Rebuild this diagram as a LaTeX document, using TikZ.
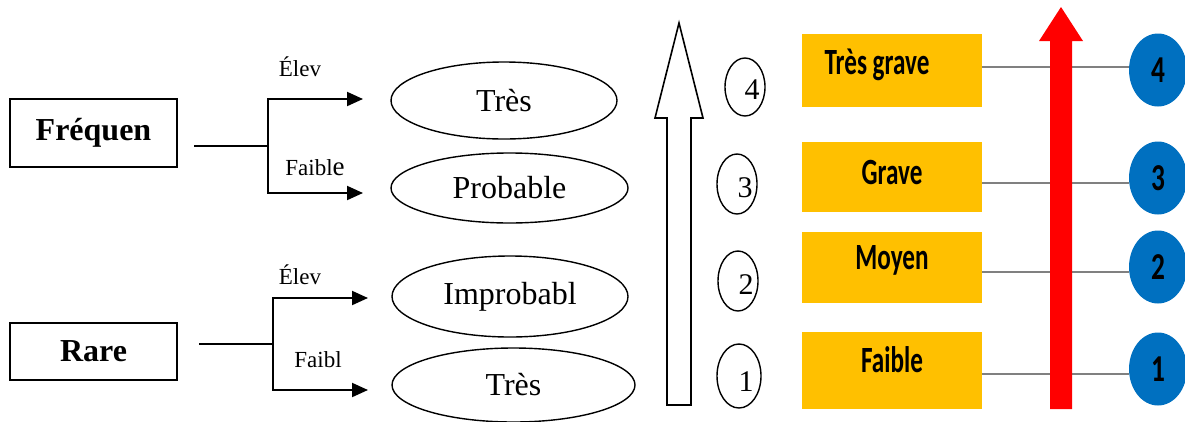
\documentclass[tikz,border=0pt]{standalone}
\usepackage{fontspec}
\setmainfont{Liberation Serif}
\newfontfamily\carl{Carlito}
\usetikzlibrary{arrows.meta,shapes.geometric}
\definecolor{ybx}{HTML}{FFC000}
\definecolor{bl}{HTML}{0070C0}
\definecolor{gl}{HTML}{808080}
\begin{document}
\begin{tikzpicture}[x=1pt,y=-1pt,
  lbox/.style={draw, line width=1.5pt, minimum width=167pt, inner sep=0pt, font=\fontsize{32}{36}\selectfont\bfseries},
  ell/.style={draw, ellipse, line width=1.4pt, inner sep=0pt, font=\fontsize{32}{36}\selectfont},
  num/.style={draw, ellipse, line width=1.4pt, inner sep=0pt, minimum width=40pt, minimum height=59pt},
  numt/.style={font=\fontsize{30}{33}\selectfont},
  ybox/.style={fill=ybx, minimum width=180pt, inner sep=0pt},
  ytxt/.style={font=\carl\bfseries\fontsize{37}{40}\selectfont, inner sep=0pt},
  bcirc/.style={fill=bl, ellipse, minimum width=58pt, minimum height=73pt, inner sep=0pt, font=\carl\bfseries\fontsize{38}{40}\selectfont},
  arr/.style={line width=2pt, -{Triangle[length=16pt,width=14pt]}},
  conn/.style={line width=1.6pt},
  gline/.style={draw=gl, line width=1.1pt},
  lab/.style={font=\fontsize{23}{26}\selectfont, inner sep=0pt}]
\useasboundingbox (0,0) rectangle (1185,421);
\clip (0,0) rectangle (1185,421);

% left boxes
\node[lbox, minimum height=68pt] (fq) at (93.5,133) {Fréquen};
\node[lbox, minimum height=57pt] (ra) at (93.5,351.5) {Rare};

% ellipses
\node[ell, minimum width=226pt, minimum height=77pt] (e1) at (504,100.5) {Très};
\node[ell, minimum width=237pt, minimum height=70pt] (e2) at (509.5,188) {Probable};
\node[ell, minimum width=236pt, minimum height=81pt] (e3) at (510,296.5) {Improbabl};
\node[ell, minimum width=243pt, minimum height=74pt] (e4) at (513.5,385) {Très};

% Fréquen connectors
\coordinate (fa) at (194,146);
\coordinate (fj) at (268,146);
\coordinate (fut) at (363,99);
\coordinate (fdt) at (363,193);
\draw[conn] (fa) -- (fj);
\draw[arr] (fj) |- (fut);
\draw[arr] (fj) |- (fdt);
\node[lab] (l1) at (300,67) {Élev};
\node[lab] (l2) at (315,168) {Faibl{\fontsize{27}{30}\selectfont e}};

% Rare connectors
\coordinate (ra0) at (199,344);
\coordinate (rj) at (273,344);
\coordinate (rut) at (368,298);
\coordinate (rdt) at (368,390);
\draw[conn] (ra0) -- (rj);
\draw[arr] (rj) |- (rut);
\draw[arr] (rj) |- (rdt);
\node[lab] (l3) at (300,275) {Élev};
\node[lab] (l4) at (318,360) {Faibl};

% white up arrow
\draw[line width=1.6pt, line join=miter, fill=white] (667,405) -- (667,118) -- (655,118) -- (679,23) -- (703,118) -- (691,118) -- (691,405) -- cycle;

% numbered ellipses
\node[num, minimum height=58pt] (n4) at (745,87) {};
\node[numt] at ([xshift=7pt,yshift=-3pt]n4.center) {4};
\node[num, minimum height=60pt] (n3) at (737,184) {};
\node[numt] at ([xshift=8pt,yshift=-4pt]n3.center) {3};
\node[num, minimum height=60pt] (n2) at (738,281) {};
\node[numt] at ([xshift=8pt,yshift=-4pt]n2.center) {2};
\node[num, minimum width=44pt, minimum height=64pt] (n1) at (739,376) {};
\node[numt] at ([xshift=7pt,yshift=-6pt]n1.center) {1};

% yellow boxes
\node[ybox, minimum height=73pt] (b4) at (892,70.5) {};
\node[ytxt] at ([xshift=-15pt,yshift=5.5pt]b4.center) {\scalebox{0.68}[1]{Très grave}};
\node[ybox, minimum height=70pt] (b3) at (892,177) {};
\node[ytxt] at ([yshift=5pt]b3.center) {\scalebox{0.68}[1]{Grave}};
\node[ybox, minimum height=71pt] (b2) at (892,267.5) {};
\node[ytxt] at ([yshift=7.5pt]b2.center) {\scalebox{0.68}[1]{Moyen}};
\node[ybox, minimum height=77pt] (b1) at (892,370.5) {};
\node[ytxt] at ([yshift=10.5pt]b1.center) {\scalebox{0.68}[1]{Faible}};

% blue circles
\node[bcirc] (c4) at (1158,70) {\scalebox{0.72}[1]{4}};
\node[bcirc] (c3) at (1158,178) {\scalebox{0.72}[1]{3}};
\node[bcirc] (c2) at (1158,267) {\scalebox{0.72}[1]{2}};
\node[bcirc] (c1) at (1158,369) {\scalebox{0.72}[1]{1}};

% gray lines
\draw[gline] (b4.east |- 0,67) -- (c4.west |- 0,67);
\draw[gline] (b3.east |- 0,183) -- (c3.west |- 0,183);
\draw[gline] (b2.east |- 0,272) -- (c2.west |- 0,272);
\draw[gline] (b1.east |- 0,374) -- (c1.west |- 0,374);

% red arrow
\fill[red] (1050,409) -- (1050,41) -- (1039,41) -- (1061,7) -- (1083,41) -- (1072,41) -- (1072,409) -- cycle;
\end{tikzpicture}
\end{document}
